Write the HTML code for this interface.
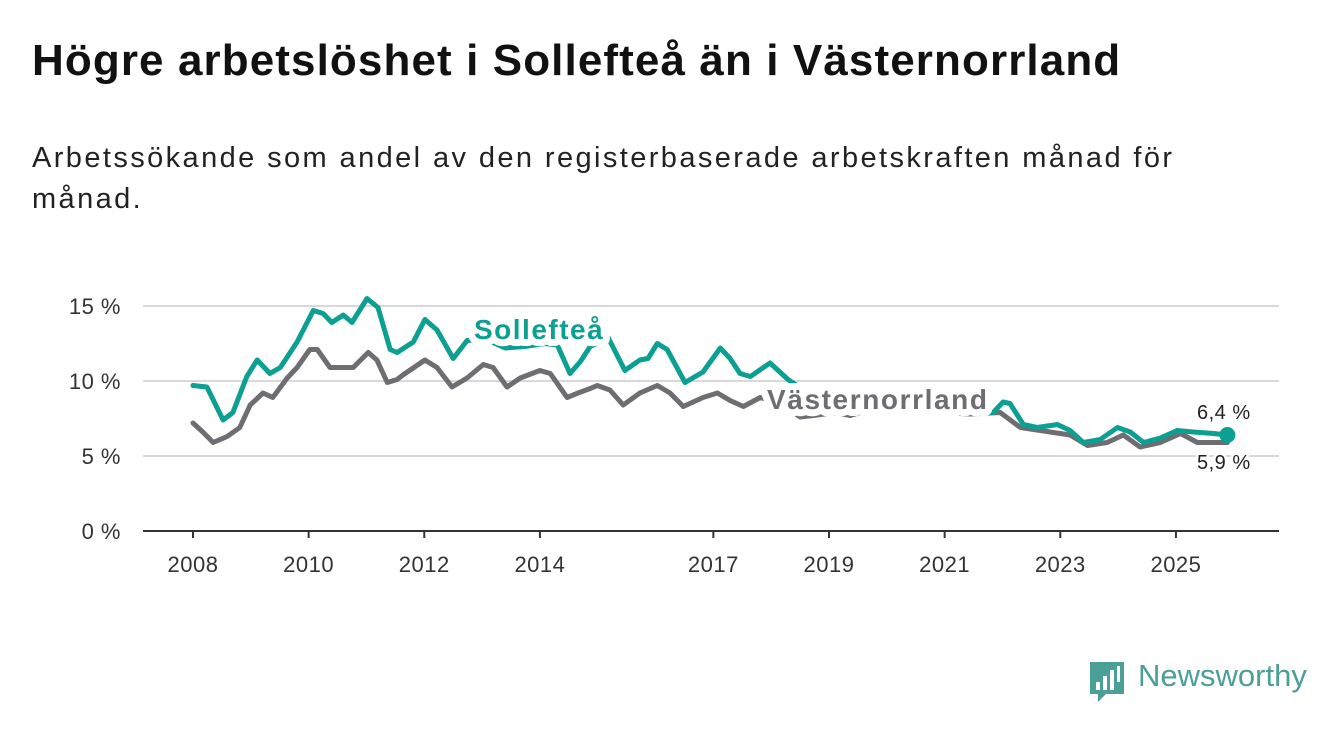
<!DOCTYPE html>
<html><head><meta charset="utf-8"><style>
body{margin:0;background:#fff;width:1340px;height:734px;overflow:hidden;font-family:"Liberation Sans","DejaVu Sans",sans-serif}
h1{position:absolute;left:32px;top:36px;margin:0;font-size:44px;font-weight:bold;color:#111;letter-spacing:1.1px;white-space:nowrap}
p{position:absolute;left:32px;top:138px;margin:0;font-size:29px;line-height:41px;color:#222;width:1220px;letter-spacing:2.4px}
</style></head><body>
<h1>Högre arbetslöshet i Sollefteå än i Västernorrland</h1>
<p>Arbetssökande som andel av den registerbaserade arbetskraften månad för månad.</p>
<svg id="chart" width="1340" height="734" style="position:absolute;left:0;top:0"></svg>
<div style="position:absolute;left:1090px;top:660px;">
<svg width="36" height="44"><path d="M0 2h34v32H16l-8 8v-8H0z" fill="#4a9f96"/><rect x="6" y="22" width="4" height="8" fill="#fff"/><rect x="13" y="16" width="4" height="14" fill="#fff"/><rect x="20" y="10" width="4" height="20" fill="#fff"/><rect x="27" y="6" width="3" height="16" fill="#fff"/></svg>
<span style="position:absolute;left:48px;top:-2px;font-size:31px;color:#4a9f96;white-space:nowrap">Newsworthy</span>
</div>
<script>
const sollYears=[2008.00,2008.24,2008.52,2008.69,2008.93,2009.11,2009.33,2009.51,2009.80,2010.08,2010.25,2010.40,2010.60,2010.75,2011.01,2011.20,2011.41,2011.53,2011.81,2012.01,2012.22,2012.50,2012.74,2013.05,2013.40,2013.74,2014.09,2014.30,2014.52,2014.70,2014.87,2015.18,2015.47,2015.73,2015.87,2016.03,2016.20,2016.51,2016.82,2017.12,2017.29,2017.46,2017.64,2017.98,2018.29,2018.6,2019.0,2019.5,2020.0,2020.5,2021.0,2021.44,2021.84,2022.01,2022.13,2022.36,2022.60,2022.95,2023.17,2023.40,2023.69,2023.99,2024.21,2024.44,2024.73,2025.02,2025.30,2025.65,2025.89];
const sollValues=[9.7,9.6,7.4,7.9,10.3,11.4,10.5,10.9,12.6,14.7,14.5,13.9,14.4,13.9,15.5,14.9,12.1,11.9,12.6,14.1,13.4,11.5,12.7,12.8,12.2,12.3,12.5,12.4,10.5,11.3,12.3,12.9,10.7,11.4,11.5,12.5,12.1,9.9,10.6,12.2,11.5,10.5,10.3,11.2,10.1,9.3,8.8,8.6,8.9,8.7,8.2,7.9,7.9,8.6,8.5,7.1,6.9,7.1,6.7,5.9,6.1,6.9,6.6,5.9,6.2,6.7,6.6,6.5,6.4];
const vnYears=[2008.0,2008.17,2008.35,2008.59,2008.81,2008.99,2009.21,2009.38,2009.63,2009.80,2010.02,2010.15,2010.37,2010.54,2010.77,2011.03,2011.18,2011.36,2011.53,2011.63,2012.01,2012.22,2012.48,2012.74,2013.02,2013.19,2013.43,2013.66,2014.00,2014.18,2014.47,2014.66,2014.87,2014.99,2015.21,2015.44,2015.73,2016.03,2016.25,2016.48,2016.82,2017.07,2017.29,2017.52,2017.81,2018.16,2018.50,2018.73,2019.11,2019.37,2019.54,2019.89,2020.40,2020.92,2021.44,2021.96,2022.31,2023.17,2023.47,2023.81,2024.09,2024.38,2024.73,2025.08,2025.37,2025.89];
const vnValues=[7.2,6.6,5.9,6.3,6.9,8.4,9.2,8.9,10.2,10.9,12.1,12.1,10.9,10.9,10.9,11.9,11.4,9.9,10.1,10.4,11.4,10.9,9.6,10.2,11.1,10.9,9.6,10.2,10.7,10.5,8.9,9.2,9.5,9.7,9.4,8.4,9.2,9.7,9.2,8.3,8.9,9.2,8.7,8.3,8.9,8.5,7.6,7.7,7.9,7.7,7.9,8.1,8.1,7.9,7.8,7.9,6.9,6.4,5.7,5.9,6.4,5.6,5.9,6.5,5.9,5.9];
const yTicks=[0,5,10,15];
const yTickLabels=["0 %","5 %","10 %","15 %"];
const xTicks=[2008,2010,2012,2014,2017,2019,2021,2023,2025];
const xTickLabels=["2008","2010","2012","2014","2017","2019","2021","2023","2025"];

const NS="http://www.w3.org/2000/svg";
const svg=document.getElementById('chart');
const X=y=>193+(y-2008)*57.82;
const Y=v=>531-v*15;
function el(t,a,p){const e=document.createElementNS(NS,t);for(const k in a)e.setAttribute(k,a[k]);(p||svg).appendChild(e);return e;}
yTicks.forEach((t,i)=>{
 if(t>0){const g=el('line',{x1:143,x2:1279,y1:Y(t),y2:Y(t),stroke:'#d9d9d9','stroke-width':2});
 
 }
 const tx=el('text',{x:121,y:Y(t)+8,'text-anchor':'end','font-size':22,fill:'#333','letter-spacing':0.5});tx.textContent=yTickLabels[i];
 
 
});
const ax=el('line',{x1:143,x2:1279,y1:531,y2:531,stroke:'#333','stroke-width':2});


xTicks.forEach((t,i)=>{
 el('line',{x1:X(t),x2:X(t),y1:531,y2:538,stroke:'#333','stroke-width':2});
 const tx=el('text',{x:X(t),y:572,'text-anchor':'middle','font-size':22,fill:'#333','letter-spacing':0.5});tx.textContent=xTickLabels[i];
 
 
});
function line(xs,vs,c,name){
 const d=xs.map((x,i)=>(i?'L':'M')+X(x).toFixed(1)+' '+Y(vs[i]).toFixed(1)).join('');
 const p=el('path',{d:d,fill:'none',stroke:c,'stroke-width':5,'stroke-linejoin':'round','stroke-linecap':'round'});
 
 
}
line(vnYears,vnValues,'#6e6d72','vasternorrland-line');
line(sollYears,sollValues,'#0ba092','solleftea-line');
const dot=el('circle',{cx:X(sollYears[sollYears.length-1]),cy:Y(sollValues[sollValues.length-1]),r:8,fill:'#0ba092'});


function lab(x,y,txt,c,name,size,bold,halo,ls){
 const t=el('text',{x:x,y:y,'font-size':size,'font-weight':bold?'bold':'normal',fill:c,stroke:'#fff','stroke-width':halo,'paint-order':'stroke','stroke-linejoin':'round','letter-spacing':ls});
 t.textContent=txt;
 
 
}
lab(474,339,'Sollefteå','#0ba092','solleftea-label',28,true,14,1.5);
lab(767,409,'Västernorrland','#6e6d72','vasternorrland-label',28,true,14,1.6);
lab(1197,419,'6,4 %','#222','solleftea-end-value',20,false,5,0.5);
lab(1197,469,'5,9 %','#222','vasternorrland-end-value',20,false,5,0.5);
</script>
</body></html>
